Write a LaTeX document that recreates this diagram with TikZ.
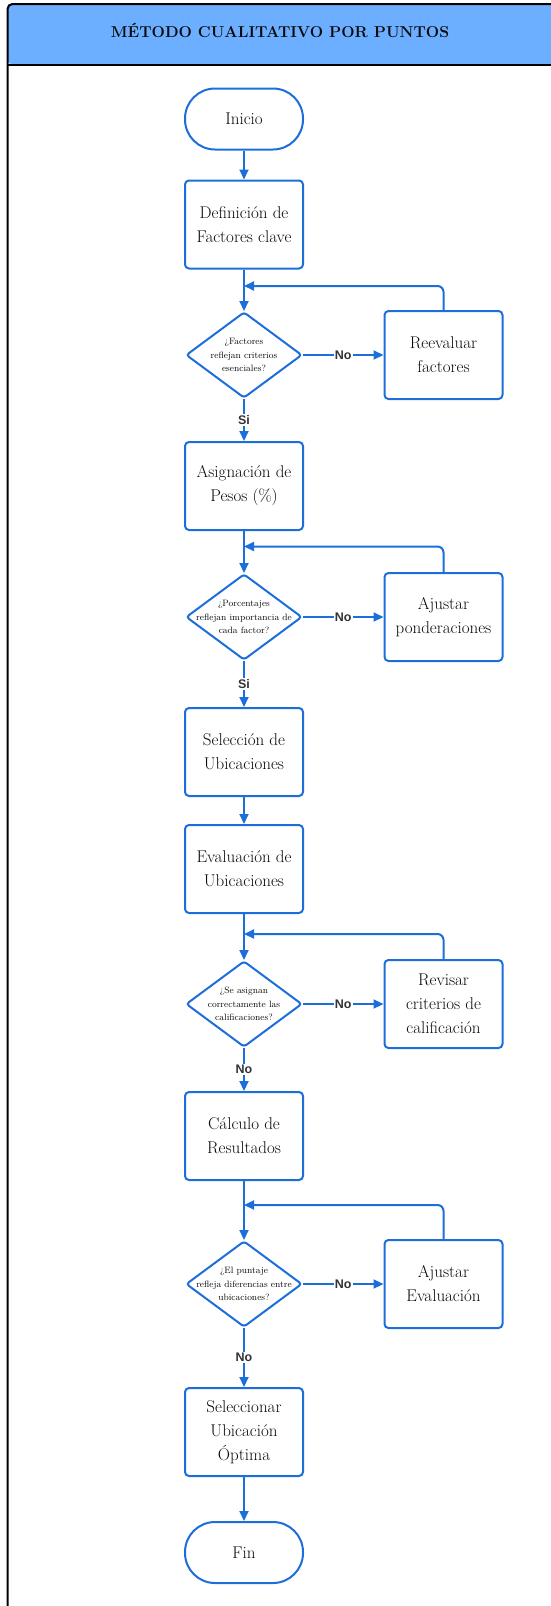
\documentclass[tikz,border=0pt]{standalone}
\usepackage{fontspec}
\newfontfamily\lblfont{Liberation Sans}
\usepackage{xcolor}
\usepackage{tikz}
\usetikzlibrary{shapes.geometric}
\usetikzlibrary{arrows.meta}
\usetikzlibrary{positioning}

\definecolor{flowblue}{RGB}{28,110,218}
\definecolor{headblue}{RGB}{108,174,255}
\definecolor{inktext}{RGB}{10,10,10}
\definecolor{answergray}{RGB}{51,51,51}

\tikzset{
  frameline/.style={draw=black, line width=2pt},
  process/.style={draw=flowblue, line width=2pt, rounded corners=4pt,
    minimum width=118pt, minimum height=88pt, inner sep=2pt,
    align=center, text=inktext, font=\fontsize{17}{24}\selectfont},
  terminal/.style={process, rounded corners=30pt, minimum height=61pt},
  decision/.style={draw=flowblue, line width=2pt, diamond, rounded corners=3pt,
    minimum width=116pt, minimum height=86pt, inner sep=-15pt,
    align=center, text=inktext, font=\fontsize{9.2}{13.5}\selectfont},
  flow/.style={draw=flowblue, line width=2pt, -{Triangle[length=10pt,width=9pt]}},
  answer/.style={fill=white, inner sep=1pt, text=answergray,
    font=\lblfont\bfseries\fontsize{12.5}{14}\selectfont}
}

\begin{document}
\begin{tikzpicture}[x=1pt, y=-1pt]

        \pgfmathsetmacro{\mainX}{244}
        \pgfmathsetmacro{\sideX}{443.5}

        \useasboundingbox (0,0) rectangle (551,1606);
        \clip (0,0) rectangle (551,1606);

        % frame and title bar
        \fill[headblue, rounded corners=5pt] (7.5,64.5) -- (7.5,4) -- (556,4) -- (556,64.5) -- cycle;
        \draw[frameline, rounded corners=5pt] (7.5,1650) -- (7.5,4) -- (556,4) -- (556,1650);
        \draw[frameline] (7.5,64.5) -- (556,64.5);
        \node (title) [anchor=base, text=inktext, font=\fontsize{15.8}{18}\selectfont\bfseries]
          at (280,37) {MÉTODO CUALITATIVO POR PUNTOS};

        % main column
        \node (ini) [terminal] at (\mainX,119) {Inicio};
        \node (def) [process] at (\mainX,224.5) {Definición de\\Factores clave};
        \node (d1) [decision] at (\mainX,355) {¿Factores\\reflejan criterios\\esenciales?};
        \node (asig) [process] at (\mainX,486) {Asignación de\\Pesos (\%)};
        \node (d2) [decision] at (\mainX,617) {¿Porcentajes\\reflejan importancia de\\cada factor?};
        \node (sel) [process] at (\mainX,752) {Selección de\\Ubicaciones};
        \node (eval) [process] at (\mainX,869) {Evaluación de\\Ubicaciones};
        \node (d3) [decision] at (\mainX,1004) {¿Se asignan\\correctamente las\\calificaciones?};
        \node (calc) [process] at (\mainX,1136) {Cálculo de\\Resultados};
        \node (d4) [decision] at (\mainX,1284) {¿El puntaje\\refleja diferencias entre\\ubicaciones?};
        \node (opt) [process] at (\mainX,1432) {Seleccionar\\Ubicación\\Óptima};
        \node (fin) [terminal] at (\mainX,1552.5) {Fin};

        % side column
        \node (r1) [process] at (\sideX,355) {Reevaluar\\factores};
        \node (r2) [process] at (\sideX,617) {Ajustar\\ponderaciones};
        \node (r3) [process] at (\sideX,1004) {Revisar\\criterios de\\calificación};
        \node (r4) [process] at (\sideX,1284) {Ajustar\\Evaluación};

        % loop joins
        \coordinate (j1) at (\mainX,286);
        \coordinate (j2) at (\mainX,546.5);
        \coordinate (j3) at (\mainX,934);
        \coordinate (j4) at (\mainX,1205);

        \draw[flow] (ini) -- (def);
        \draw[flow] (def) -- (d1);
        \draw[flow] (d1) -- node[answer] {Si} (asig);
        \draw[flow] (asig) -- (d2);
        \draw[flow] (d2) -- node[answer] {Si} (sel);
        \draw[flow] (sel) -- (eval);
        \draw[flow] (eval) -- (d3);
        \draw[flow] (d3) -- node[answer] {No} (calc);
        \draw[flow] (calc) -- (d4);
        \draw[flow] (d4) -- node[answer] {No} (opt);
        \draw[flow] (opt) -- (fin);

        \foreach \d/\r/\j in {d1/r1/j1, d2/r2/j2, d3/r3/j3, d4/r4/j4}
        {
          \draw[flow] (\d.east) -- node[answer] {No} (\r.west);
          \draw[flow, rounded corners=6pt] (\r.north) |- (\j);
        }
      \end{tikzpicture}
\end{document}
